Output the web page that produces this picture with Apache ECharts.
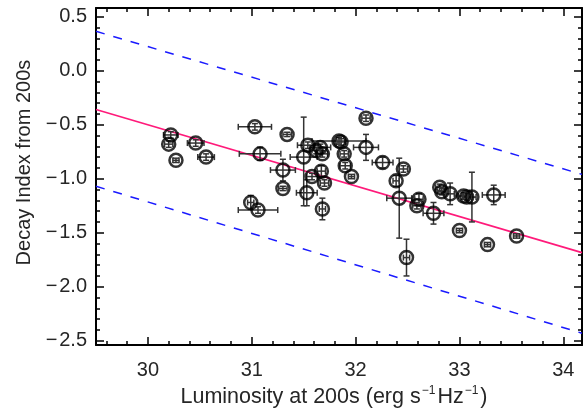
<!DOCTYPE html>
<html>
<head>
<meta charset="utf-8">
<script src="https://cdn.jsdelivr.net/npm/echarts@6/dist/echarts.min.js"></script>
<style>html,body{margin:0;padding:0;background:#fff;}#c{width:583px;height:413px;}</style>
</head>
<body>
<div id="c"></div>
<script>
// ---- data ----
const lum = [30.22,30.20,30.27,30.46,30.56,31.03,31.08,31.30,31.30,30.99,31.06,31.34,32.10,31.54,31.50,31.66,31.68,31.84,31.86,32.10,31.89,31.90,31.96,32.26,31.67,31.58,31.70,31.53,31.68,32.46,32.39,32.42,32.49,32.61,32.59,32.75,32.81,32.83,32.91,33.04,33.07,33.12,33.33,33.00,33.27,33.55,31.62];
const decay = [-0.595,-0.68,-0.83,-0.67,-0.80,-0.52,-0.77,-0.92,-1.09,-1.22,-1.29,-0.59,-0.44,-0.69,-0.80,-0.71,-0.77,-0.65,-0.66,-0.71,-0.77,-0.88,-0.98,-0.85,-0.93,-0.98,-1.04,-1.13,-1.28,-0.91,-1.02,-1.18,-1.73,-1.19,-1.25,-1.32,-1.08,-1.12,-1.14,-1.16,-1.17,-1.17,-1.15,-1.48,-1.61,-1.53,-0.74];
const lumErr = [0.07,0.04,0.03,0.08,0.08,0.16,0.20,0.12,0.04,0.03,0.19,0.04,0.04,0.10,0.13,0.10,0.05,0.26,0.04,0.12,0.04,0.05,0.03,0.10,0.04,0.05,0.04,0.10,0.03,0.04,0.03,0.12,0.03,0.04,0.04,0.10,0.04,0.04,0.04,0.05,0.04,0.04,0.11,0.03,0.03,0.03,0.04];
const decayErrHi = [0.03,0.03,0.02,0.03,0.03,0.03,0.06,0.10,0.02,0.065,0.03,0.02,0.03,0.03,0.37,0.03,0.03,0.03,0.03,0.12,0.03,0.03,0.02,0.05,0.05,0.03,0.03,0.12,0.10,0.03,0.05,0.37,0.17,0.05,0.03,0.10,0.03,0.03,0.10,0.03,0.03,0.23,0.09,0.02,0.02,0.02,0.03];
const decayErrLo = [0.03,0.03,0.02,0.03,0.03,0.03,0.06,0.10,0.02,0.065,0.03,0.02,0.03,0.03,0.45,0.03,0.03,0.03,0.03,0.12,0.03,0.03,0.02,0.05,0.05,0.03,0.03,0.12,0.10,0.03,0.05,0.37,0.17,0.05,0.03,0.10,0.03,0.03,0.10,0.03,0.03,0.23,0.09,0.02,0.02,0.02,0.03];

// fit line and envelope (end points)
const fitX = [29.5, 34.18];
const fitY = [-0.36, -1.684];
const upperY = [0.364, -0.96];
const lowerY = [-1.07, -2.43];

// axis ticks
const xTicks = [30, 31, 32, 33, 34];
const xMinor = [29.6,29.8,30.2,30.4,30.6,30.8,31.2,31.4,31.6,31.8,32.2,32.4,32.6,32.8,33.2,33.4,33.6,33.8,34.0,34.2];
const yTicks = [-2.5, -2.0, -1.5, -1.0, -0.5, 0.0, 0.5];
const yMinor = [-2.4,-2.3,-2.2,-2.1,-1.9,-1.8,-1.7,-1.6,-1.4,-1.3,-1.2,-1.1,-0.9,-0.8,-0.7,-0.6,-0.4,-0.3,-0.2,-0.1,0.1,0.2,0.3,0.4];
const X_MIN = 29.5, X_MAX = 34.18, Y_MIN = -2.54, Y_MAX = 0.58;

// ---- chart ----
const FONT = 'Liberation Sans';
const TXT = '#262626';
const chart = echarts.init(document.getElementById('c'), null, {renderer: 'canvas'});

function xAx(pos, ticks, len, labels, line) {
  return {
    type: 'value', position: pos, min: X_MIN, max: X_MAX, gridIndex: 0,
    axisLine: {show: line, onZero: false, lineStyle: {color: '#000', width: 2}},
    axisTick: {show: true, inside: true, length: len, customValues: ticks, lineStyle: {color: '#000', width: 1.5}},
    axisLabel: labels ? {show: true, customValues: xTicks, fontFamily: FONT, fontSize: 20, color: TXT, margin: 15,
      formatter: v => String(Math.round(v))} : {show: false},
    splitLine: {show: false}
  };
}
function yAx(pos, ticks, len, labels, line) {
  return {
    type: 'value', position: pos, min: Y_MIN, max: Y_MAX, gridIndex: 0,
    axisLine: {show: line, onZero: false, lineStyle: {color: '#000', width: 2}},
    axisTick: {show: true, inside: true, length: len, customValues: ticks, lineStyle: {color: '#000', width: 1.5}},
    axisLabel: labels ? {show: true, customValues: yTicks, fontFamily: FONT, fontSize: 20, color: TXT, margin: 9,
      formatter: v => v.toFixed(1).replace('-', '\u2212\u200a')} : {show: false},
    splitLine: {show: false}
  };
}

const xAxes = [
  xAx('bottom', xTicks, 8, true, true),
  xAx('top', xTicks, 8, false, true),
  xAx('bottom', xMinor, 4, false, false),
  xAx('top', xMinor, 4, false, false)
];
xAxes[0].name = '{a|Luminosity at 200s (erg s}{s|\u22121}{a|Hz}{s|\u22121}{a|)}';
xAxes[0].nameLocation = 'middle';
xAxes[0].nameGap = 32;
xAxes[0].nameTextStyle = {
  padding: [0, 10, 0, 0],
  rich: {
    a: {fontFamily: FONT, fontSize: 21.5, color: TXT, lineHeight: 24},
    s: {fontFamily: FONT, fontSize: 12, color: TXT, lineHeight: 12, verticalAlign: 'top', padding: [0, 2, 0, 1]}
  }
};
const yAxes = [
  yAx('left', yTicks, 8, true, true),
  yAx('right', yTicks, 8, false, true),
  yAx('left', yMinor, 4, false, false),
  yAx('right', yMinor, 4, false, false)
];
yAxes[0].name = 'Decay Index from 200s';
yAxes[0].nameLocation = 'middle';
yAxes[0].nameGap = 62;
yAxes[0].nameTextStyle = {fontFamily: FONT, fontSize: 20, color: TXT, padding: [0, 0, 0, 28]};

const pts = lum.map((x, i) => [x, decay[i], lumErr[i], decayErrLo[i], decayErrHi[i]]);

const option = {
  animation: false,
  backgroundColor: '#fff',
  grid: {left: 96, right: 1, top: 8, bottom: 60, containLabel: false},
  xAxis: xAxes,
  yAxis: yAxes,
  series: [
    {type: 'line', data: fitX.map((x, i) => [x, upperY[i]]), symbol: 'none', z: 1,
     lineStyle: {color: '#1a1aff', width: 1.5, type: [9, 9]}},
    {type: 'line', data: fitX.map((x, i) => [x, lowerY[i]]), symbol: 'none', z: 1,
     lineStyle: {color: '#1a1aff', width: 1.5, type: [9, 9]}},
    {type: 'line', data: fitX.map((x, i) => [x, fitY[i]]), symbol: 'none', z: 1,
     lineStyle: {color: '#ff1a7a', width: 1.6}},
    {type: 'custom', data: pts, z: 3,
     renderItem: function (params, api) {
       const x = api.value(0), y = api.value(1), xe = api.value(2), lo = api.value(3), hi = api.value(4);
       const pL = api.coord([x - xe, y]), pR = api.coord([x + xe, y]);
       const pT = api.coord([x, y + hi]), pB = api.coord([x, y - lo]);
       const st = {stroke: '#333', lineWidth: 1.5};
       const c = 3;
       return {type: 'group', children: [
         {type: 'line', shape: {x1: pL[0], y1: pL[1], x2: pR[0], y2: pR[1]}, style: st},
         {type: 'line', shape: {x1: pL[0], y1: pL[1] - c, x2: pL[0], y2: pL[1] + c}, style: st},
         {type: 'line', shape: {x1: pR[0], y1: pR[1] - c, x2: pR[0], y2: pR[1] + c}, style: st},
         {type: 'line', shape: {x1: pT[0], y1: pT[1], x2: pB[0], y2: pB[1]}, style: st},
         {type: 'line', shape: {x1: pT[0] - c, y1: pT[1], x2: pT[0] + c, y2: pT[1]}, style: st},
         {type: 'line', shape: {x1: pB[0] - c, y1: pB[1], x2: pB[0] + c, y2: pB[1]}, style: st}
       ]};
     }},
    {type: 'scatter', data: lum.map((x, i) => [x, decay[i]]), z: 4,
     symbol: 'circle', symbolSize: 13,
     itemStyle: {color: 'rgba(0,0,0,0)', borderColor: '#000', borderWidth: 2.5}}
  ]
};
chart.setOption(option);
</script>
</body>
</html>
